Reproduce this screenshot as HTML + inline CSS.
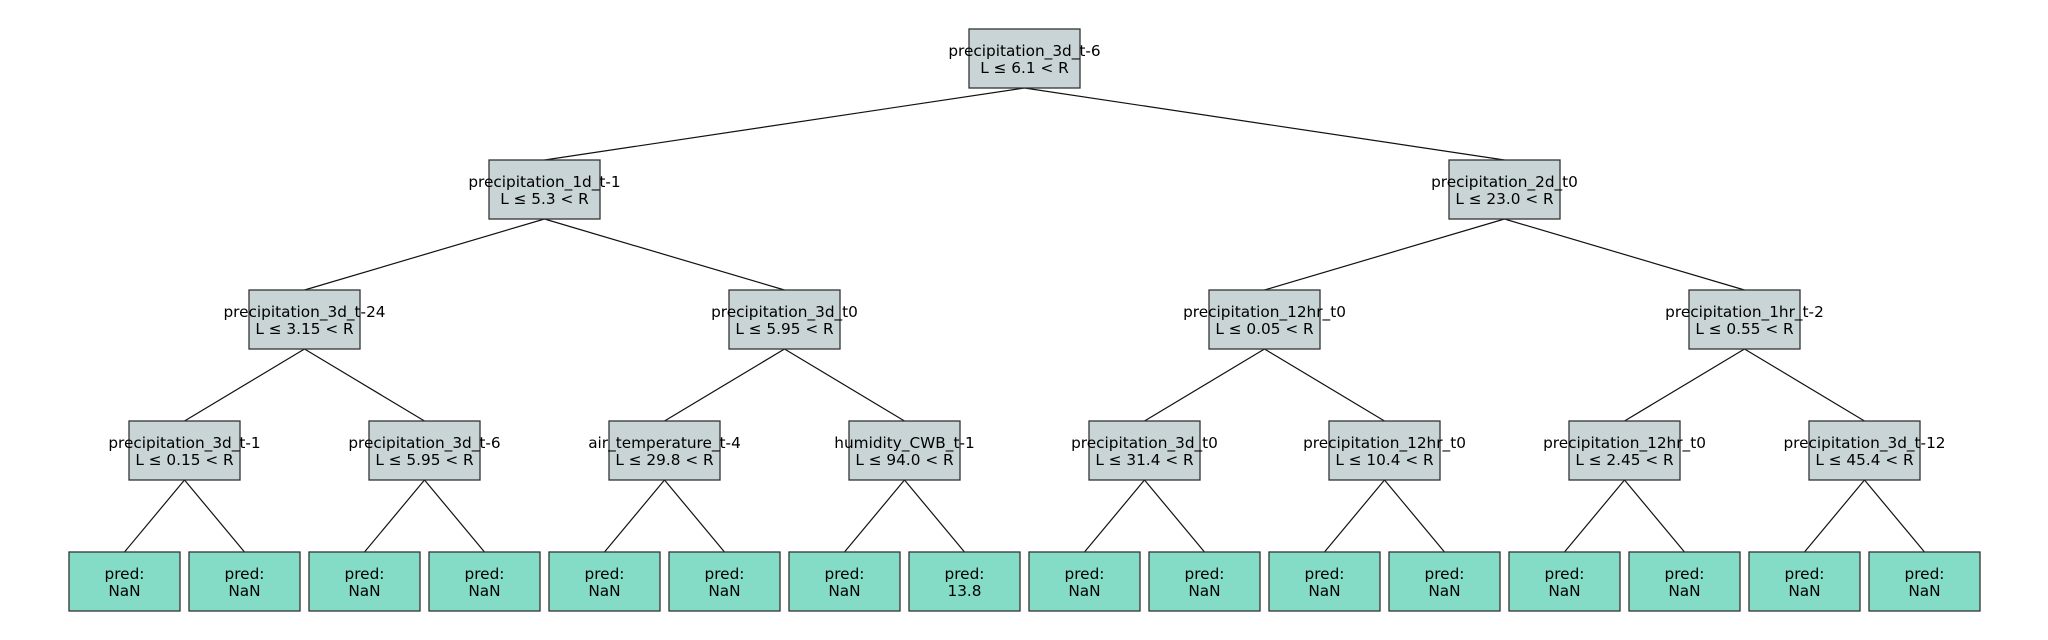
<!DOCTYPE html>
<html><head><meta charset="utf-8"><style>
html,body{margin:0;padding:0;background:#fff;}
svg{display:block}
text{font-family:"DejaVu Sans","Liberation Sans",sans-serif;font-size:15.3px;fill:#000;text-anchor:middle}
.n{fill:#c8d4d5;stroke:#333;stroke-width:1.3}
.l{fill:#84dcc6;stroke:#333;stroke-width:1.3}
line{stroke:#111;stroke-width:1.2}
</style></head><body>
<svg width="2048" height="640" viewBox="0 0 2048 640" xmlns="http://www.w3.org/2000/svg">
<g>
<line x1="1024.5" y1="88" x2="544.5" y2="160"/><line x1="1024.5" y1="88" x2="1504.5" y2="160"/>
<line x1="544.5" y1="219" x2="304.5" y2="290"/><line x1="544.5" y1="219" x2="784.5" y2="290"/>
<line x1="1504.5" y1="219" x2="1264.5" y2="290"/><line x1="1504.5" y1="219" x2="1744.5" y2="290"/>
<line x1="304.5" y1="349" x2="184.5" y2="421"/><line x1="304.5" y1="349" x2="424.5" y2="421"/>
<line x1="784.5" y1="349" x2="664.5" y2="421"/><line x1="784.5" y1="349" x2="904.5" y2="421"/>
<line x1="1264.5" y1="349" x2="1144.5" y2="421"/><line x1="1264.5" y1="349" x2="1384.5" y2="421"/>
<line x1="1744.5" y1="349" x2="1624.5" y2="421"/><line x1="1744.5" y1="349" x2="1864.5" y2="421"/>
<line x1="184.5" y1="480" x2="124.5" y2="552"/><line x1="184.5" y1="480" x2="244.5" y2="552"/>
<line x1="424.5" y1="480" x2="364.5" y2="552"/><line x1="424.5" y1="480" x2="484.5" y2="552"/>
<line x1="664.5" y1="480" x2="604.5" y2="552"/><line x1="664.5" y1="480" x2="724.5" y2="552"/>
<line x1="904.5" y1="480" x2="844.5" y2="552"/><line x1="904.5" y1="480" x2="964.5" y2="552"/>
<line x1="1144.5" y1="480" x2="1084.5" y2="552"/><line x1="1144.5" y1="480" x2="1204.5" y2="552"/>
<line x1="1384.5" y1="480" x2="1324.5" y2="552"/><line x1="1384.5" y1="480" x2="1444.5" y2="552"/>
<line x1="1624.5" y1="480" x2="1564.5" y2="552"/><line x1="1624.5" y1="480" x2="1684.5" y2="552"/>
<line x1="1864.5" y1="480" x2="1804.5" y2="552"/><line x1="1864.5" y1="480" x2="1924.5" y2="552"/>
</g>
<rect class="n" x="969" y="29" width="111" height="59"/><text x="1024.5" y="56">precipitation_3d_t-6</text><text x="1024.5" y="73">L ≤ 6.1 &lt; R</text>
<rect class="n" x="489" y="160" width="111" height="59"/><text x="544.5" y="187">precipitation_1d_t-1</text><text x="544.5" y="204">L ≤ 5.3 &lt; R</text>
<rect class="n" x="1449" y="160" width="111" height="59"/><text x="1504.5" y="187">precipitation_2d_t0</text><text x="1504.5" y="204">L ≤ 23.0 &lt; R</text>
<rect class="n" x="249" y="290" width="111" height="59"/><text x="304.5" y="317">precipitation_3d_t-24</text><text x="304.5" y="334">L ≤ 3.15 &lt; R</text>
<rect class="n" x="729" y="290" width="111" height="59"/><text x="784.5" y="317">precipitation_3d_t0</text><text x="784.5" y="334">L ≤ 5.95 &lt; R</text>
<rect class="n" x="1209" y="290" width="111" height="59"/><text x="1264.5" y="317">precipitation_12hr_t0</text><text x="1264.5" y="334">L ≤ 0.05 &lt; R</text>
<rect class="n" x="1689" y="290" width="111" height="59"/><text x="1744.5" y="317">precipitation_1hr_t-2</text><text x="1744.5" y="334">L ≤ 0.55 &lt; R</text>
<rect class="n" x="129" y="421" width="111" height="59"/><text x="184.5" y="448">precipitation_3d_t-1</text><text x="184.5" y="465">L ≤ 0.15 &lt; R</text>
<rect class="n" x="369" y="421" width="111" height="59"/><text x="424.5" y="448">precipitation_3d_t-6</text><text x="424.5" y="465">L ≤ 5.95 &lt; R</text>
<rect class="n" x="609" y="421" width="111" height="59"/><text x="664.5" y="448">air_temperature_t-4</text><text x="664.5" y="465">L ≤ 29.8 &lt; R</text>
<rect class="n" x="849" y="421" width="111" height="59"/><text x="904.5" y="448">humidity_CWB_t-1</text><text x="904.5" y="465">L ≤ 94.0 &lt; R</text>
<rect class="n" x="1089" y="421" width="111" height="59"/><text x="1144.5" y="448">precipitation_3d_t0</text><text x="1144.5" y="465">L ≤ 31.4 &lt; R</text>
<rect class="n" x="1329" y="421" width="111" height="59"/><text x="1384.5" y="448">precipitation_12hr_t0</text><text x="1384.5" y="465">L ≤ 10.4 &lt; R</text>
<rect class="n" x="1569" y="421" width="111" height="59"/><text x="1624.5" y="448">precipitation_12hr_t0</text><text x="1624.5" y="465">L ≤ 2.45 &lt; R</text>
<rect class="n" x="1809" y="421" width="111" height="59"/><text x="1864.5" y="448">precipitation_3d_t-12</text><text x="1864.5" y="465">L ≤ 45.4 &lt; R</text>
<rect class="l" x="69" y="552" width="111" height="59"/><text x="124.5" y="579">pred:</text><text x="124.5" y="596">NaN</text>
<rect class="l" x="189" y="552" width="111" height="59"/><text x="244.5" y="579">pred:</text><text x="244.5" y="596">NaN</text>
<rect class="l" x="309" y="552" width="111" height="59"/><text x="364.5" y="579">pred:</text><text x="364.5" y="596">NaN</text>
<rect class="l" x="429" y="552" width="111" height="59"/><text x="484.5" y="579">pred:</text><text x="484.5" y="596">NaN</text>
<rect class="l" x="549" y="552" width="111" height="59"/><text x="604.5" y="579">pred:</text><text x="604.5" y="596">NaN</text>
<rect class="l" x="669" y="552" width="111" height="59"/><text x="724.5" y="579">pred:</text><text x="724.5" y="596">NaN</text>
<rect class="l" x="789" y="552" width="111" height="59"/><text x="844.5" y="579">pred:</text><text x="844.5" y="596">NaN</text>
<rect class="l" x="909" y="552" width="111" height="59"/><text x="964.5" y="579">pred:</text><text x="964.5" y="596">13.8</text>
<rect class="l" x="1029" y="552" width="111" height="59"/><text x="1084.5" y="579">pred:</text><text x="1084.5" y="596">NaN</text>
<rect class="l" x="1149" y="552" width="111" height="59"/><text x="1204.5" y="579">pred:</text><text x="1204.5" y="596">NaN</text>
<rect class="l" x="1269" y="552" width="111" height="59"/><text x="1324.5" y="579">pred:</text><text x="1324.5" y="596">NaN</text>
<rect class="l" x="1389" y="552" width="111" height="59"/><text x="1444.5" y="579">pred:</text><text x="1444.5" y="596">NaN</text>
<rect class="l" x="1509" y="552" width="111" height="59"/><text x="1564.5" y="579">pred:</text><text x="1564.5" y="596">NaN</text>
<rect class="l" x="1629" y="552" width="111" height="59"/><text x="1684.5" y="579">pred:</text><text x="1684.5" y="596">NaN</text>
<rect class="l" x="1749" y="552" width="111" height="59"/><text x="1804.5" y="579">pred:</text><text x="1804.5" y="596">NaN</text>
<rect class="l" x="1869" y="552" width="111" height="59"/><text x="1924.5" y="579">pred:</text><text x="1924.5" y="596">NaN</text>
</svg>
</body></html>
